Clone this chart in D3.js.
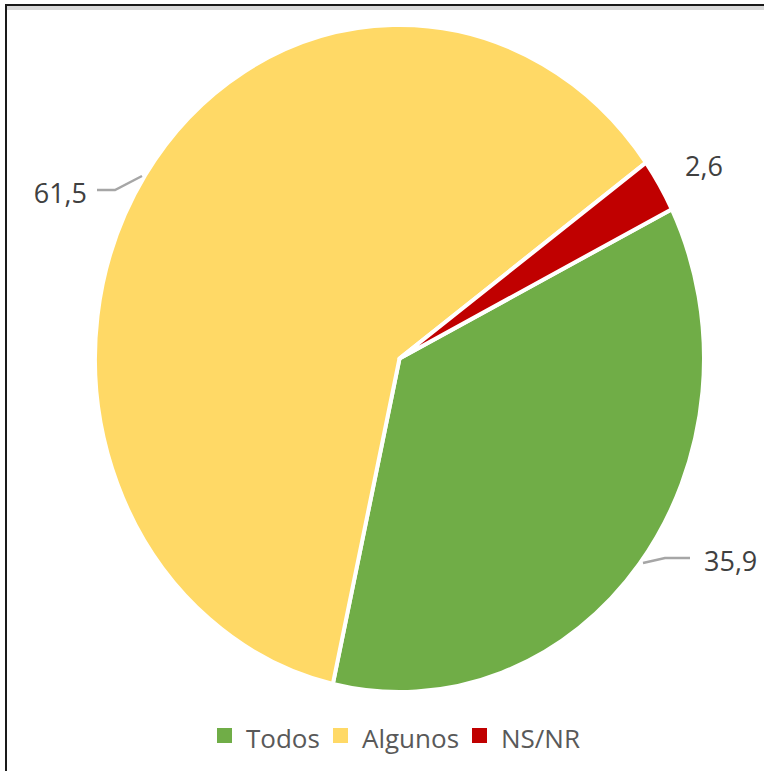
<!DOCTYPE html>
<html>
<head>
<meta charset="utf-8">
<script src="https://cdn.jsdelivr.net/npm/d3@7"></script>
<style>
  html, body { margin: 0; padding: 0; background: #fff; }
  svg { display: block; }
</style>
</head>
<body>
<svg id="chart" width="764" height="771"></svg>
<script>
const categories = ["Todos", "Algunos", "NS/NR"];
const values = [35.9, 61.5, 2.6];
const valueLabels = ["35,9", "61,5", "2,6"];
const colors = ["#70AD47", "#FFD966", "#C00000"];

const W = 764, H = 771;
const svg = d3.select("#chart");

// frame
svg.append("rect").attr("x", 6).attr("y", 6).attr("width", W).attr("height", 4).attr("fill", "#d9d9d9");
svg.append("line").attr("x1", 6).attr("x2", W).attr("y1", 5).attr("y2", 5).attr("stroke", "#1a1a1a").attr("stroke-width", 2);
svg.append("line").attr("x1", 6).attr("x2", 6).attr("y1", 4).attr("y2", H).attr("stroke", "#1a1a1a").attr("stroke-width", 2);

const cx = 399.5, cy = 358.5, rx = 304.5, ry = 333.5;
const sy = ry / rx;
const startDeg = 63.4;

const pie = d3.pie().sort(null).value(d => d)
  .startAngle(startDeg * Math.PI / 180)
  .endAngle((startDeg + 360) * Math.PI / 180);
const arcs = pie(values);
const arc = d3.arc().innerRadius(0).outerRadius(rx);

const g = svg.append("g").attr("transform", `translate(${cx},${cy}) scale(1,${sy})`);
g.selectAll("path").data(arcs).join("path")
  .attr("d", arc)
  .attr("fill", (d, i) => colors[i])
  .attr("stroke", "#fff")
  .attr("stroke-width", 4)
  .attr("vector-effect", "non-scaling-stroke")
  .attr("stroke-linejoin", "round");

// labels
const labelFont = "'Open Sans', sans-serif";
const labelPos = [
  { x: 704, y: 560, anchor: "start", leader: [[643, 563], [665, 558], [690, 558]] },
  { x: 87, y: 192, anchor: "end", leader: [[142, 176], [115, 190], [97, 190]] },
  { x: 685, y: 165, anchor: "start", leader: null }
];
arcs.forEach((d, i) => {
  const p = labelPos[i];
  if (p.leader) {
    svg.append("polyline")
      .attr("points", p.leader.map(q => q.join(",")).join(" "))
      .attr("fill", "none").attr("stroke", "#a6a6a6").attr("stroke-width", 2.5);
  }
  svg.append("text")
    .attr("x", p.x).attr("y", p.y)
    .attr("text-anchor", p.anchor)
    .attr("dominant-baseline", "central")
    .attr("font-family", labelFont)
    .attr("font-size", 27)
    .attr("fill", "#404040")
    .text(valueLabels[i]);
});

// legend
const legendX = [217, 333, 472];
const legend = svg.append("g");
categories.forEach((c, i) => {
  legend.append("rect").attr("x", legendX[i]).attr("y", 728).attr("width", 15).attr("height", 15).attr("fill", colors[i]);
  legend.append("text")
    .attr("x", legendX[i] + 29).attr("y", 748)
    .attr("font-family", labelFont).attr("font-size", 26)
    .attr("fill", "#595959")
    .text(c);
});
</script>
</body>
</html>
